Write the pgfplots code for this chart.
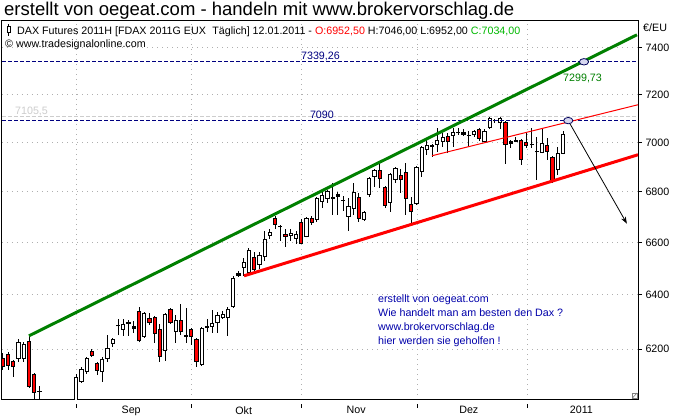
\documentclass[border=0pt]{standalone}
\usepackage{fontspec}
\setmainfont{Liberation Sans}
\usepackage{pgfplots}
\pgfplotsset{compat=1.18}
\usepackage{pgfplotstable}
\usetikzlibrary{arrows.meta}

\definecolor{navyd}{RGB}{0,0,128}
\definecolor{boxblue}{RGB}{0,0,170}
\definecolor{trendgreen}{RGB}{0,128,0}
\definecolor{gridgray}{RGB}{175,175,175}
\definecolor{lightdash}{RGB}{205,205,205}
\definecolor{lgreen}{RGB}{0,185,0}
\definecolor{ellfill}{RGB}{215,215,240}
\newcommand\chartfont{\fontsize{10.7}{12}\selectfont}

% daily candles, FDAX March 2011 (j = trading day index)
\pgfplotstableread{
j o h l c
0 6168 6186 6124 6135
1 6182 6189 6124 6139
2 6157 6160 6099 6135
3 6164 6237 6153 6226
4 6164 6226 6153 6219
5 6230 6248 6060 6063
6 6110 6112 5995 6042
7 6048 6067 5990 6044
14 5995 6110 5985 6099
15 6081 6135 6077 6128
16 6117 6170 6110 6168
17 6193 6200 6172 6175
18 6149 6153 6106 6121
19 6117 6171 6081 6164
20 6164 6251 6153 6204
21 6219 6240 6208 6237
22 6286 6310 6250 6283
23 6270 6310 6248 6292
24 6299 6306 6248 6292
25 6274 6303 6259 6285
26 6340 6355 6224 6228
27 6244 6336 6240 6333
28 6314 6333 6288 6295
29 6318 6320 6222 6255
30 6274 6292 6153 6171
31 6193 6333 6157 6329
32 6348 6351 6293 6296
33 6262 6325 6222 6307
34 6307 6366 6251 6262
35 6244 6351 6222 6251
36 6274 6276 6215 6244
37 6237 6240 6135 6153
38 6142 6279 6139 6277
39 6277 6310 6262 6285
40 6281 6344 6259 6295
41 6295 6336 6259 6325
42 6314 6340 6310 6329
43 6314 6355 6248 6348
44 6355 6472 6351 6464
45 6483 6491 6468 6472
46 6502 6541 6472 6525
47 6483 6579 6480 6572
48 6545 6564 6491 6495
49 6514 6564 6499 6552
50 6545 6646 6529 6614
51 6626 6653 6614 6642
52 6696 6704 6653 6669
53 6663 6669 6606 6660
54 6634 6653 6583 6622
55 6626 6653 6606 6638
56 6614 6646 6595 6634
57 6681 6692 6593 6595
58 6622 6700 6620 6696
59 6696 6704 6669 6677
60 6688 6778 6681 6776
61 6760 6808 6736 6788
62 6772 6806 6756 6804
63 6772 6836 6708 6780
64 6792 6800 6708 6780
65 6765 6784 6724 6762
66 6700 6776 6645 6744
67 6732 6836 6708 6800
68 6780 6796 6681 6692
69 6688 6724 6685 6720
70 6788 6858 6780 6856
71 6860 6892 6820 6888
72 6888 6916 6816 6852
73 6820 6822 6736 6744
74 6756 6874 6720 6872
75 6848 6900 6836 6896
76 6868 6892 6796 6848
77 6880 6916 6708 6772
78 6752 6780 6677 6720
79 6752 6902 6748 6900
80 6880 6986 6860 6982
81 6970 7019 6949 6990
82 6990 6992 6941 6982
83 6990 7060 6961 7010
84 7002 7039 6982 7023
85 7027 7039 6957 7002
86 7027 7060 6982 7043
87 7040 7060 7031 7038
88 7031 7056 7027 7043
89 7027 7048 6982 7025
90 7031 7052 7023 7048
91 7056 7060 7006 7014
92 7002 7056 7000 7048
93 7060 7106 7056 7102
94 7090 7098 7081 7087
95 7080 7106 7056 7102
96 7085 7089 6912 6990
97 7006 7010 6978 6994
98 7002 7023 7000 7010
99 7010 7014 6908 6929
100 7002 7039 6978 6986
101 6992 7060 6978 6988
102 6963 7023 6848 6959
103 6957 7056 6955 6998
104 6990 7019 6929 6961
105 6941 6945 6836 6840
106 6888 6982 6868 6957
107 6952.5 7046 6952 7034
}\fdax

\begin{document}
\begin{tikzpicture}
\useasboundingbox (0pt,0pt) rectangle (680pt,420pt);
\fill[white] (0pt,0pt) rectangle (680pt,420pt);
\begin{axis}[
  at={(2pt,20pt)}, anchor=south west,
  scale only axis, width=636pt, height=379pt,
  xmin=-0.17, xmax=121.32,
  ymode=log, ymin=6017.2, ymax=7518.4,
  axis line style={black, line width=1pt},
  tick align=outside, major tick length=4pt,
  xminorticks=false, yminorticks=false,
  xtick={14.1,36.1,57.1,79.1,100.1}, xticklabels={},
  xtick pos=bottom,
  xtick style={black, line width=0.8pt, yshift=-4pt},
  extra x ticks={24.5,46,67.5,89,110.5},
  extra x tick labels={Sep,Okt,Nov,Dez,2011},
  extra x tick style={grid=none, major tick length=0pt},
  xticklabel style={yshift=-3pt},
  ytick={6200,6400,6600,6800,7000,7200,7400},
  yticklabels={6200,6400,6600,6800,7000,7200,7400},
  ytick pos=right, yticklabel pos=right,
  ytick style={black, line width=0.8pt},
  tick label style={font=\chartfont, black},
  xmajorgrids, ymajorgrids,
  grid style={gridgray, line width=0.8pt, dash pattern=on 1pt off 4pt},
]
% wicks
\addplot[draw=none, mark=none, forget plot,
  error bars/.cd, y dir=plus, y explicit, error mark=none,
  error bar style={draw=black, line width=1pt}]
  table[x=j, y=l, y error expr=\thisrow{h}-\thisrow{l}] {\fdax};
% body outlines
\addplot[draw=none, mark=none, forget plot,
  error bars/.cd, y dir=plus, y explicit, error mark=none,
  error bar style={draw=black, line width=4.2pt}]
  table[x=j, y expr={min(\thisrow{o},\thisrow{c})},
        y error expr={max(abs(\thisrow{c}-\thisrow{o}),4)}] {\fdax};
% rising bodies
\addplot[draw=none, mark=none, forget plot,
  restrict expr to domain={\thisrow{c}/\thisrow{o}}{1.0018:2},
  error bars/.cd, y dir=plus, y explicit, error mark=none,
  error bar style={draw=white, line width=2.2pt}]
  table[x=j, y expr={\thisrow{o}*1.0006},
        y error expr={\thisrow{c}/1.0006-\thisrow{o}*1.0006}] {\fdax};
% falling bodies
\addplot[draw=none, mark=none, forget plot,
  restrict expr to domain={\thisrow{o}/\thisrow{c}}{1.0018:2},
  error bars/.cd, y dir=plus, y explicit, error mark=none,
  error bar style={draw=red, line width=2.2pt}]
  table[x=j, y expr={\thisrow{c}*1.0006},
        y error expr={\thisrow{o}/1.0006-\thisrow{c}*1.0006}] {\fdax};

% horizontal levels
\addplot[lightdash, line width=1pt, dash pattern=on 4pt off 2pt]
  coordinates {(-0.17,7105.5) (121.32,7105.5)};
\addplot[navyd, line width=1pt, dash pattern=on 4pt off 2pt]
  coordinates {(-0.17,7339.26) (121.32,7339.26)};
\addplot[navyd, line width=1pt, dash pattern=on 4pt off 2pt]
  coordinates {(-0.17,7090) (121.32,7090)};

% trend lines
\addplot[trendgreen, line width=3pt] coordinates {(4.99,6247.7) (121.13,7456.8)};
\addplot[red, line width=3pt] coordinates {(46.06,6472) (121.32,6949)};
\addplot[red, line width=1pt] coordinates {(81.97,6945) (121.32,7156)};

% projection arrow and marked points
\addplot[black, line width=0.8pt, -{Stealth[length=7pt,width=5pt]}]
  coordinates {(108.33,7077) (119.2,6673)};
\addplot[only marks, mark=*, mark size=3.2pt,
  mark options={xscale=1.45, draw=navyd!70!black, fill=ellfill, line width=0.8pt}]
  coordinates {(111,7339.26) (108,7090)};
\end{axis}

% header and legend
\node[anchor=base west, inner sep=0, font=\fontsize{18.5}{20}\selectfont]
  at (4pt,404.5pt) {erstellt von oegeat.com - handeln mit www.brokervorschlag.de};
\draw[black, line width=0.8pt] (8.8pt,384pt) -- (8.8pt,396pt);
\draw[black, fill=white, line width=0.8pt] (7pt,387.3pt) rectangle (10.6pt,393.3pt);
\node[anchor=base west, inner sep=0, font=\chartfont] at (17pt,385.5pt)
  {DAX Futures 2011H [FDAX 2011G EUX\hspace{0.6em}Täglich] 12.01.2011 -
   \textcolor{red}{O:6952,50} H:7046,00 L:6952,00 \textcolor{lgreen}{C:7034,00}};
\node[anchor=base west, inner sep=0, font=\chartfont] at (5pt,372.5pt)
  {© www.tradesignalonline.com};
\node[anchor=base west, inner sep=0, font=\chartfont] at (643pt,388pt) {€/EU};

% level labels
\node[anchor=base east, inner sep=0, font=\chartfont, text=navyd] at (340pt,360.5pt) {7339,26};
\node[anchor=base east, inner sep=0, font=\chartfont, text=navyd] at (334pt,301.7pt) {7090};
\node[anchor=base west, inner sep=0, font=\chartfont, text=lightdash] at (15pt,305pt) {7105,5};
\node[anchor=base west, inner sep=0, font=\chartfont, text=trendgreen] at (563pt,338pt) {7299,73};

% comment box
\node[anchor=base west, inner sep=0, font=\chartfont, text=boxblue] at (378pt,117.5pt) {erstellt von oegeat.com};
\node[anchor=base west, inner sep=0, font=\chartfont, text=boxblue] at (378pt,103.5pt) {Wie handelt man am besten den Dax ?};
\node[anchor=base west, inner sep=0, font=\chartfont, text=boxblue] at (378pt,89.5pt) {www.brokervorschlag.de};
\node[anchor=base west, inner sep=0, font=\chartfont, text=boxblue] at (378pt,75.5pt) {hier werden sie geholfen !};

% corner handle
\draw[gray, line width=0.6pt] (632pt,21.5pt) rectangle (637pt,27pt);
\draw[gray, line width=0.6pt] (632pt,21.5pt) -- (637pt,27pt);
\end{tikzpicture}
\end{document}
